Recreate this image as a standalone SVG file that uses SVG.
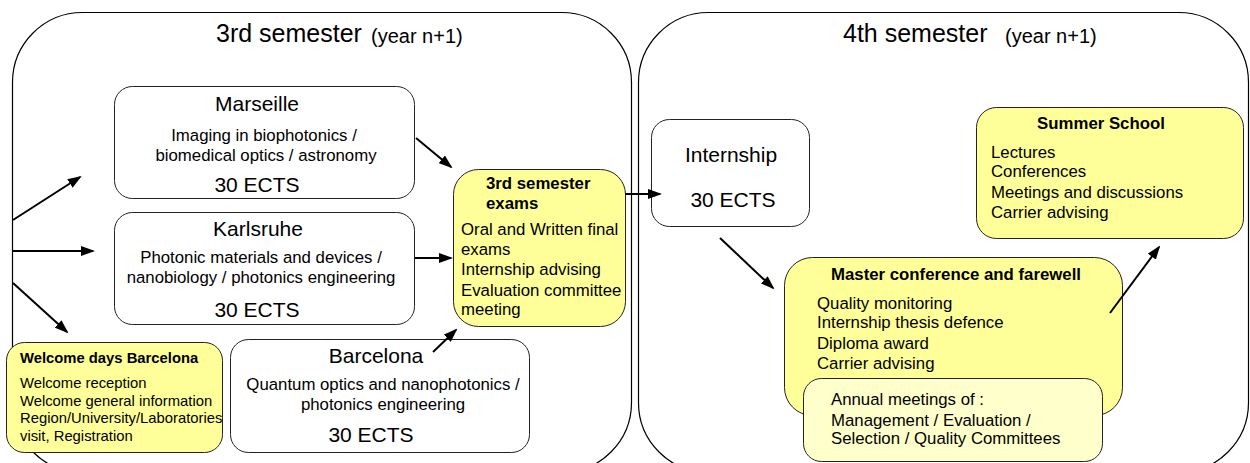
<svg xmlns="http://www.w3.org/2000/svg" width="1250" height="463" viewBox="0 0 1250 463">
<defs>
<marker id="ah" viewBox="0 0 14 10" markerWidth="14" markerHeight="10" refX="12" refY="5" orient="auto" markerUnits="userSpaceOnUse">
<path d="M0,0 L14,5 L0,10 z" fill="#000"/>
</marker>
<style>
text{font-family:"Liberation Sans",Arial,sans-serif;fill:#000}
.cont{fill:#fff;stroke:#000;stroke-width:1.2}
.box{fill:#fff;stroke:#222;stroke-width:1}
.ybox{fill:#ffff99;stroke:#222;stroke-width:1}
.pbox{fill:#ffffcc;stroke:#222;stroke-width:1}
.title{font-size:25px}
.sub{font-size:20px}
.big{font-size:21px}
.body{font-size:16.8px}
.bold{font-size:16.8px;font-weight:bold}
.small{font-size:14.8px}
.smallb{font-size:14.8px;font-weight:bold}
.mid{text-anchor:middle}
.arr{stroke:#000;stroke-width:2;fill:none;marker-end:url(#ah)}
</style>
</defs>
<rect width="1250" height="463" fill="#fff"/>

<g id="sem3">
<rect class="cont" x="12.5" y="12.5" width="619" height="460" rx="70" ry="70"/>
<text x="216" y="42" class="title">3rd semester</text>
<text x="371" y="43" class="sub">(year n+1)</text>
</g>
<g id="sem4">
<rect class="cont" x="638.5" y="12.5" width="610" height="460" rx="70" ry="70"/>
<text x="843" y="42" class="title">4th semester</text>
<text x="1005" y="43" class="sub">(year n+1)</text>
</g>

<g id="marseille">
<rect class="box" x="114.5" y="86.5" width="300" height="112" rx="18"/>
<text x="257" y="111" class="big mid">Marseille</text>
<text x="264" y="141" class="body mid">Imaging in biophotonics /</text>
<text x="266" y="161" class="body mid">biomedical optics / astronomy</text>
<text x="257" y="192" class="big mid">30 ECTS</text>
</g>

<g id="karlsruhe">
<rect class="box" x="114.5" y="212.5" width="300" height="112" rx="18"/>
<text x="258" y="236" class="big mid">Karlsruhe</text>
<text x="261" y="263" class="body mid">Photonic materials and devices /</text>
<text x="261" y="283" class="body mid">nanobiology / photonics engineering</text>
<text x="257" y="317" class="big mid">30 ECTS</text>
</g>

<g id="barcelona">
<rect class="box" x="230.5" y="339.5" width="299" height="113" rx="18"/>
<text x="376" y="363" class="big mid">Barcelona</text>
<text x="383" y="390" class="body mid">Quantum optics and nanophotonics /</text>
<text x="383" y="410" class="body mid">photonics engineering</text>
<text x="371" y="442" class="big mid">30 ECTS</text>
</g>

<g id="welcome">
<rect class="ybox" x="6.5" y="342.5" width="216" height="110" rx="18"/>
<text x="20" y="363" class="smallb">Welcome days Barcelona</text>
<text x="20" y="388" class="small">Welcome reception</text>
<text x="20" y="406" class="small">Welcome general information</text>
<text x="20" y="423" class="small">Region/University/Laboratories</text>
<text x="20" y="441" class="small">visit, Registration</text>
</g>

<g id="exams">
<rect class="ybox" x="453.5" y="169.5" width="172" height="157" rx="25"/>
<text x="486" y="189" class="bold">3rd semester</text>
<text x="486" y="209" class="bold">exams</text>
<text x="461" y="235" class="body">Oral and Written final</text>
<text x="461" y="255" class="body">exams</text>
<text x="461" y="275" class="body">Internship advising</text>
<text x="461" y="296" class="body">Evaluation committee</text>
<text x="461" y="315" class="body">meeting</text>
</g>

<g id="internship">
<rect class="box" x="651.5" y="119.5" width="158" height="107" rx="18"/>
<text x="731" y="162" class="big mid">Internship</text>
<text x="733" y="207" class="big mid">30 ECTS</text>
</g>

<g id="summer">
<rect class="ybox" x="976.5" y="107.5" width="267" height="131" rx="20"/>
<text x="1101" y="129" class="bold mid">Summer School</text>
<text x="991" y="158" class="body">Lectures</text>
<text x="991" y="177" class="body">Conferences</text>
<text x="991" y="198" class="body">Meetings and discussions</text>
<text x="991" y="218" class="body">Carrier advising</text>
</g>

<g id="master">
<rect class="ybox" x="784.5" y="257.5" width="338" height="158" rx="28"/>
<text x="956" y="280" class="bold mid">Master conference and farewell</text>
<text x="817" y="309" class="body">Quality monitoring</text>
<text x="817" y="328" class="body">Internship thesis defence</text>
<text x="817" y="349" class="body">Diploma award</text>
<text x="817" y="369" class="body">Carrier advising</text>
</g>

<g id="annual">
<rect class="pbox" x="803.5" y="378.5" width="299" height="83" rx="18"/>
<text x="831" y="405" class="body">Annual meetings of :</text>
<text x="831" y="426" class="body">Management / Evaluation /</text>
<text x="831" y="444" class="body">Selection / Quality Committees</text>
</g>

<g id="connectors">
<line class="arr" x1="13" y1="220" x2="80" y2="177"/>
<line class="arr" x1="13" y1="251" x2="93" y2="251"/>
<line class="arr" x1="13" y1="283" x2="67" y2="332"/>
<line class="arr" x1="416" y1="138" x2="451" y2="167"/>
<line class="arr" x1="415" y1="258" x2="451" y2="258"/>
<line class="arr" x1="433" y1="352" x2="456" y2="330"/>
<line class="arr" x1="625" y1="194" x2="660" y2="194"/>
<line class="arr" x1="720" y1="238" x2="773" y2="288"/>
<line class="arr" x1="1110" y1="313" x2="1159" y2="247"/>
</g>
</svg>
